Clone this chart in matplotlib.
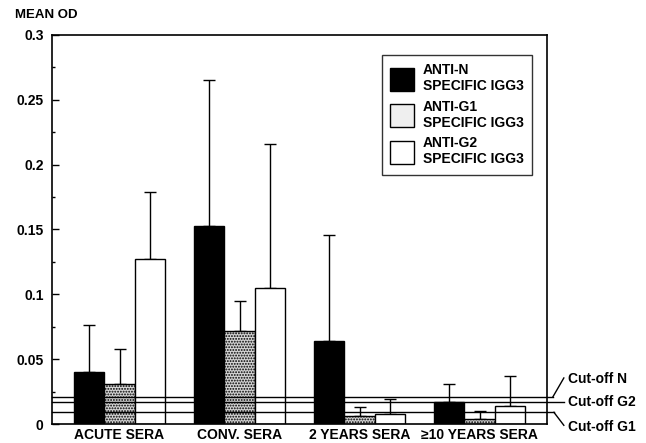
import matplotlib
matplotlib.use("Agg")
import matplotlib.pyplot as plt
from matplotlib.patches import Patch
import numpy as np

categories = ["ACUTE SERA", "CONV. SERA", "2 YEARS SERA", "\u226510 YEARS SERA"]
series_names = ["ANTI-N\nSPECIFIC IGG3", "ANTI-G1\nSPECIFIC IGG3", "ANTI-G2\nSPECIFIC IGG3"]
anti_n_mean = [0.040, 0.153, 0.064, 0.017]
anti_n_sd = [0.036, 0.112, 0.082, 0.014]
anti_g1_mean = [0.031, 0.072, 0.006, 0.004]
anti_g1_sd = [0.027, 0.023, 0.007, 0.006]
anti_g2_mean = [0.127, 0.105, 0.008, 0.014]
anti_g2_sd = [0.052, 0.111, 0.011, 0.023]
cutoff_names = ["Cut-off N", "Cut-off G2", "Cut-off G1"]
cutoff_values = [0.021, 0.017, 0.009]
y_ticks = [0, 0.05, 0.1, 0.15, 0.2, 0.25, 0.3]
y_tick_labels = ["0", "0.05", "0.1", "0.15", "0.2", "0.25", "0.3"]

plt.rcParams['font.family'] = ['Liberation Sans', 'DejaVu Sans']
plt.rcParams['font.weight'] = 'bold'
plt.rcParams['hatch.color'] = '#444444'
plt.rcParams['hatch.linewidth'] = 0.9

FS = 10
fig = plt.figure(figsize=(6.46, 4.43), dpi=100)
ax = fig.add_axes([52/646, 19/443, 495/646, 389/443])

x = np.arange(len(categories))
w = 0.252
styles = [dict(facecolor='black', edgecolor='black'),
          dict(facecolor='#d4d4d4', edgecolor='black', hatch='......'),
          dict(facecolor='white', edgecolor='black')]
means = [anti_n_mean, anti_g1_mean, anti_g2_mean]
sds = [anti_n_sd, anti_g1_sd, anti_g2_sd]
for i in range(3):
    pos = x + (i - 1) * w
    ax.bar(pos, means[i], width=w, linewidth=1.0, zorder=2, **styles[i])
    ax.errorbar(pos, means[i], yerr=[np.zeros(len(pos)), sds[i]], fmt='none',
                ecolor='black', elinewidth=1.0, capsize=4.3, capthick=1.0, zorder=1)

# cut-off lines, extending past the right frame
tr = ax.get_yaxis_transform()
ends = [1.012, 1.034, 1.014]
for name, val, xe in zip(cutoff_names, cutoff_values, ends):
    ax.plot([0, xe], [val, val], color='black', lw=1.0, transform=tr,
            clip_on=False, zorder=3)
ax.plot([1.012, 1.034], [cutoff_values[0], 0.0355], color='black', lw=1.0,
        transform=tr, clip_on=False)
ax.plot([1.014, 1.034], [cutoff_values[2], -0.001], color='black', lw=1.0,
        transform=tr, clip_on=False)
ax.text(1.042, 0.0345, cutoff_names[0], transform=tr, fontsize=FS, fontweight='bold',
        va='center', ha='left')
ax.text(1.042, cutoff_values[1], cutoff_names[1], transform=tr, fontsize=FS, fontweight='bold',
        va='center', ha='left')
ax.text(1.042, -0.0025, cutoff_names[2], transform=tr, fontsize=FS, fontweight='bold',
        va='center', ha='left')

ax.set_xlim(-0.5625, 3.5625)
ax.set_ylim(0, 0.3)
ax.set_yticks(y_ticks)
ax.set_yticklabels(y_tick_labels, fontsize=FS, fontweight='bold')
ax.set_yticks(np.arange(0.025, 0.3, 0.05), minor=True)
ax.set_xticks(x)
ax.set_xticklabels(categories, fontsize=FS, fontweight='bold')
ax.tick_params(axis='y', which='major', direction='in', length=5, width=1, pad=6)
ax.tick_params(axis='y', which='minor', direction='in', length=2.5, width=1)
ax.tick_params(axis='x', length=0, pad=3)
for s in ax.spines.values():
    s.set_linewidth(1.2)

fig.text(15/646, 1 - 15/443, "MEAN OD", fontsize=9.5, fontweight='bold', va='center', ha='left')

legend_handles = [Patch(facecolor='black', edgecolor='black', linewidth=1.0),
                  Patch(facecolor='#efefef', edgecolor='black', linewidth=1.0),
                  Patch(facecolor='white', edgecolor='black', linewidth=1.0)]
leg = ax.legend(legend_handles, series_names, loc='upper right',
                bbox_to_anchor=(0.970, 0.949), borderaxespad=0,
                fontsize=FS, frameon=True, fancybox=False, handlelength=1.73,
                handleheight=2.18, labelspacing=0.45, handletextpad=0.65,
                borderpad=0.6)
leg.get_frame().set_edgecolor('black')
leg.get_frame().set_linewidth(1.0)
for t in leg.get_texts():
    t.set_fontweight('bold')

fig.savefig("out.png", dpi=100)
